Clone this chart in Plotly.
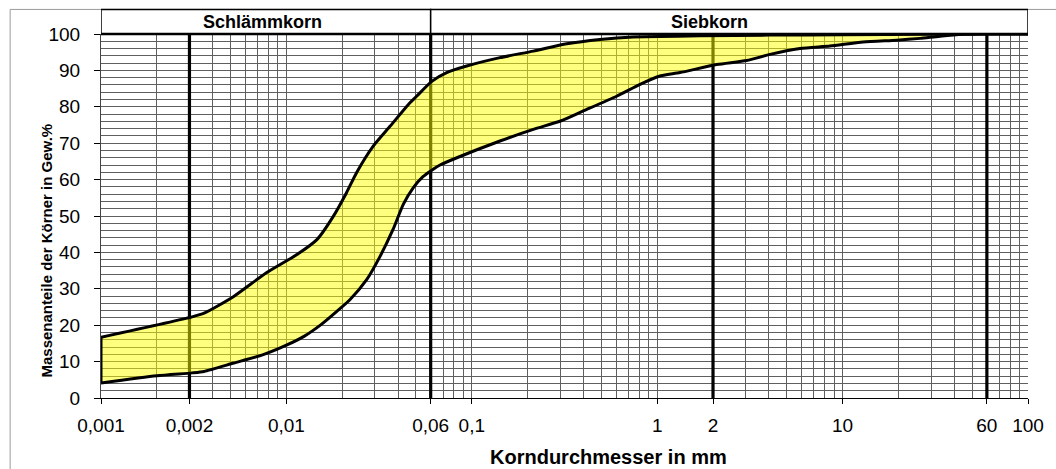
import math
import plotly.graph_objects as go

# ---------------- data ----------------
# grain diameter in mm (x) and passing percentage (y)
upper_d = [0.001, 0.0031, 0.0036, 0.0052, 0.0078, 0.0114, 0.0146, 0.0179, 0.0211, 0.0239,
           0.0294, 0.0363, 0.0464, 0.0504, 0.0608, 0.0732, 0.0939, 0.1419, 0.2146, 0.325,
           0.491, 0.743, 1.7, 4, 10, 30, 60, 100]
upper_p = [16.7, 22.3, 23.3, 27.9, 34.4, 39.4, 43.5, 49.9, 56.4, 61.9,
           69.2, 74.7, 81.1, 82.9, 87.0, 89.4, 91.2, 93.5, 95.3, 97.3,
           98.5, 99.2, 99.5, 99.7, 99.8, 99.9, 100, 100]

lower_d = [0.001, 0.002, 0.0031, 0.0036, 0.0052, 0.0075, 0.010, 0.0125, 0.0155, 0.0187,
           0.022, 0.0271, 0.032, 0.0376, 0.0427, 0.0484, 0.0545, 0.0608, 0.0674, 0.0831,
           0.1419, 0.2146, 0.301, 0.397, 0.604, 0.803, 1.025, 1.327, 2.094, 3.04,
           4.06, 5.89, 8.55, 12.9, 19.6, 26.2, 33.5, 44.8, 60, 100]
lower_p = [4.1, 6.1, 6.9, 7.3, 9.6, 11.9, 14.5, 17.0, 20.3, 23.8,
           27.0, 32.5, 38.9, 46.3, 53.2, 57.8, 60.8, 62.6, 64.0, 66.0,
           70.6, 73.8, 76.1, 78.8, 82.9, 86.1, 88.4, 89.4, 91.6, 92.7,
           94.4, 96.0, 96.7, 97.8, 98.3, 98.8, 99.4, 99.9, 100, 100]

# x tick positions and their printed labels (as in the reference)
x_tickvals = [0.001, 0.003, 0.01, 0.06, 0.1, 1, 2, 10, 60, 100]
x_ticktext = ["0,001", "0,002", "0,01", "0,06", "0,1", "1", "2", "10", "60", "100"]
y_tickvals = [0, 10, 20, 30, 40, 50, 60, 70, 80, 90, 100]

# thick boundary lines
boundaries = [0.003, 0.06, 2, 60]
# header sections: (label, from, to)
sections = [("Schlämmkorn", 0.001, 0.06), ("Siebkorn", 0.06, 100)]

FONT = "Liberation Sans, Arial, sans-serif"
GRID = "#5f5f5f"

fig = go.Figure()

# thick vertical boundary lines (drawn first, beneath the yellow band)
for b in boundaries:
    fig.add_trace(go.Scatter(
        x=[b, b], y=[-1.2, 100], mode="lines", cliponaxis=False,
        line=dict(color="black", width=3.2), showlegend=False, hoverinfo="skip"))

# lower curve, then upper curve filled down to it
fig.add_trace(go.Scatter(
    x=lower_d, y=lower_p, mode="lines",
    line=dict(color="black", width=3, shape="spline", smoothing=0.6),
    showlegend=False, hoverinfo="skip"))
fig.add_trace(go.Scatter(
    x=upper_d, y=upper_p, mode="lines", fill="tonexty",
    fillcolor="rgba(255,255,0,0.5)",
    line=dict(color="black", width=3, shape="spline", smoothing=0.6),
    showlegend=False, hoverinfo="skip"))
# closing edge at the left end of the band
fig.add_trace(go.Scatter(
    x=[lower_d[0], upper_d[0]], y=[lower_p[0], upper_p[0]], mode="lines",
    line=dict(color="black", width=3), showlegend=False, hoverinfo="skip"))

shapes = []
# header boxes above the plot
head_top = 1.0675
for name, a, b in sections:
    shapes.append(dict(type="rect", xref="x", yref="paper", x0=a, x1=b, y0=1, y1=head_top,
                       line=dict(color="black", width=1.5), fillcolor="white", layer="above"))
# thick top border of the plot
shapes.append(dict(type="line", xref="x", yref="paper", x0=0.001, x1=100, y0=1, y1=1,
                   line=dict(color="black", width=2.5), layer="above"))
# outer chart frame
shapes.append(dict(type="rect", xref="paper", yref="paper", x0=-0.098, x1=1.08, y0=-0.3, y1=head_top,
                   line=dict(color="#9a9a9a", width=1), layer="below"))

annotations = []
annotations.append(dict(text="<b>Schlämmkorn</b>", xref="x", yref="paper",
                        x=(math.log10(sections[0][1]) + math.log10(sections[0][2])) / 2,
                        xshift=-3, y=1.032, showarrow=False, yanchor="middle",
                        font=dict(family=FONT, size=18, color="black")))
annotations.append(dict(text="<b>Siebkorn</b>", xref="x", yref="paper",
                        x=(math.log10(sections[1][1]) + math.log10(sections[1][2])) / 2,
                        xshift=-20, y=1.032, showarrow=False, yanchor="middle",
                        font=dict(family=FONT, size=18, color="black")))
annotations.append(dict(text="<b>Massenanteile der Körner in Gew.%</b>", xref="paper", yref="paper",
                        x=-0.0583, y=0.405, textangle=-90, showarrow=False,
                        xanchor="center", yanchor="middle",
                        font=dict(family=FONT, size=15, color="black")))
annotations.append(dict(text="<b>Korndurchmesser in mm</b>", xref="paper", yref="paper",
                        x=0.548, y=-0.163, showarrow=False, xanchor="center", yanchor="middle",
                        font=dict(family=FONT, size=20, color="black")))

fig.update_layout(
    width=1056, height=469,
    margin=dict(l=101, r=28, t=34, b=71),
    paper_bgcolor="white", plot_bgcolor="white",
    shapes=shapes, annotations=annotations,
    font=dict(family=FONT, color="black"),
)

fig.update_xaxes(
    type="log", range=[-3, 2],
    tickmode="array", tickvals=x_tickvals, ticktext=x_ticktext,
    ticks="outside", ticklen=5, tickcolor="black", ticklabelstandoff=5,
    tickfont=dict(family=FONT, size=19, color="black"),
    showgrid=True, gridcolor=GRID, gridwidth=1,
    minor=dict(dtick="D1", showgrid=True, gridcolor=GRID, gridwidth=1, ticks=""),
    showline=True, linecolor="black", linewidth=1,
    zeroline=False,
)
fig.update_yaxes(
    range=[0, 100],
    tickmode="array", tickvals=y_tickvals,
    ticks="outside", ticklen=6, tickcolor="black", ticklabelstandoff=10,
    tickfont=dict(family=FONT, size=19, color="black"),
    showgrid=True, gridcolor=GRID, gridwidth=1,
    minor=dict(dtick=2, showgrid=True, gridcolor=GRID, gridwidth=1, ticks=""),
    showline=True, linecolor="#444", linewidth=1,
    zeroline=False,
)

fig.write_html("out.html")
